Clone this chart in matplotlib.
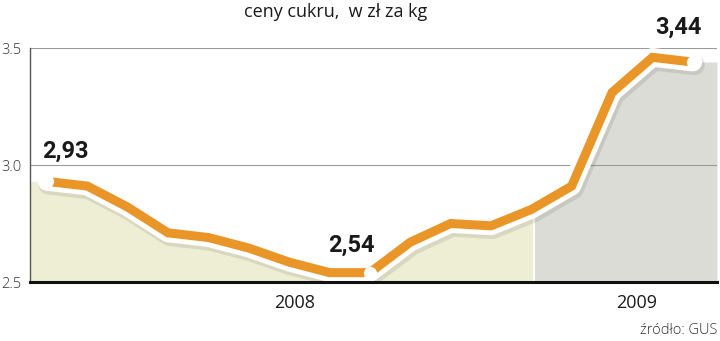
import numpy as np
import matplotlib
matplotlib.use("Agg")
import matplotlib.pyplot as plt
import matplotlib.patheffects as pe

# ceny cukru, zl za kg (miesiecznie)
miesiace = np.arange(17)
ceny = [2.93, 2.91, 2.82, 2.71, 2.69, 2.645, 2.585, 2.54, 2.54,
        2.67, 2.75, 2.74, 2.81, 2.91, 3.31, 3.46, 3.44]
etykiety_idx = [0, 8, 16]
etykiety_txt = ["2,93", "2,54", "3,44"]
lata = ["2008", "2009"]
lata_x = [6.14, 14.6]
granica_2009 = 12.07

x_min, x_max = -0.42, 16.6
pomaranczowy = "#EA9528"

fig = plt.figure(figsize=(7.2, 3.41), dpi=100)
ax = fig.add_axes([30/720, 59/341, 687/720, 234/341])

# wypelnienie pod linia (rozszerzone do prawej krawedzi)
xf = np.append(miesiace, x_max).astype(float)
yf = np.append(ceny, ceny[-1])
xs = np.linspace(x_min, x_max, 2000)
ys = np.interp(xs, xf, yf)
ax.fill_between(xs, 2.5, ys, where=xs >= granica_2009, color="#DCDCD6",
                lw=0, zorder=2)
ax.fill_between(xs, 2.5, ys, where=xs < granica_2009, color="#EDEED3",
                lw=0, zorder=2)
ax.axvline(granica_2009, color="white", lw=1.2, zorder=2.5)

# siatka
for v in [3.0, 3.5]:
    ax.axhline(v, color="#9a9a9a", lw=0.8, zorder=2.6)

# linia z obwodka i cieniem
ax.plot(miesiace, ceny, color="white", lw=13.5, solid_joinstyle="round",
        solid_capstyle="round", zorder=4,
        path_effects=[pe.SimpleLineShadow(offset=(1.2, -2.0), shadow_color="#000000",
                                          alpha=0.09, linewidth=15),
                      pe.Normal()])
ax.plot(miesiace, ceny, color=pomaranczowy, lw=6.5, solid_joinstyle="miter",
        solid_capstyle="butt", zorder=5)
ax.plot([miesiace[i] for i in etykiety_idx], [ceny[i] for i in etykiety_idx],
        "o", color="white", ms=9.5, mew=0, zorder=6)

# etykiety wartosci
offs = [(0.45, 0.13), (-0.45, 0.115), (-0.35, 0.15)]
for i, t, o in zip(etykiety_idx, etykiety_txt, offs):
    ax.text(miesiace[i] + o[0], ceny[i] + o[1], t, ha="center", va="center",
            fontsize=17, fontweight="bold", family="Roboto", color="#1a1a1a",
            zorder=7, clip_on=False)

ax.set_xlim(x_min, x_max)
ax.set_ylim(2.5, 3.5)
ax.set_yticks([2.5, 3.0, 3.5])
ax.set_yticklabels(["2.5", "3.0", "3.5"])
ax.set_xticks([])
ax.tick_params(axis="y", length=0, pad=6, labelsize=10.5, labelcolor="#333333")
for lab in ax.get_yticklabels():
    lab.set_family("Open Sans")
    lab.set_fontweight("light")

for s in ["top", "right"]:
    ax.spines[s].set_visible(False)
ax.spines["left"].set_color("#555555")
ax.spines["left"].set_linewidth(1.0)
ax.spines["bottom"].set_color("#111111")
ax.spines["bottom"].set_linewidth(2.2)
ax.spines["left"].set_zorder(8)
ax.spines["bottom"].set_zorder(8)

for r, xr in zip(lata, lata_x):
    ax.text(xr, 2.41, r, ha="center", va="center", fontsize=13,
            family="Open Sans", color="#1a1a1a", clip_on=False)

fig.text(336/720, 1 - 12/341, "ceny cukru,  w zł za kg", ha="center",
         va="center", fontsize=13, family="Open Sans", color="#1a1a1a")
fig.text(717/720, 1 - 330/341, "źródło: GUS", ha="right", va="center",
         fontsize=10.5, family="Open Sans", fontweight="light", color="#333333")

fig.savefig("out.png", dpi=100)
